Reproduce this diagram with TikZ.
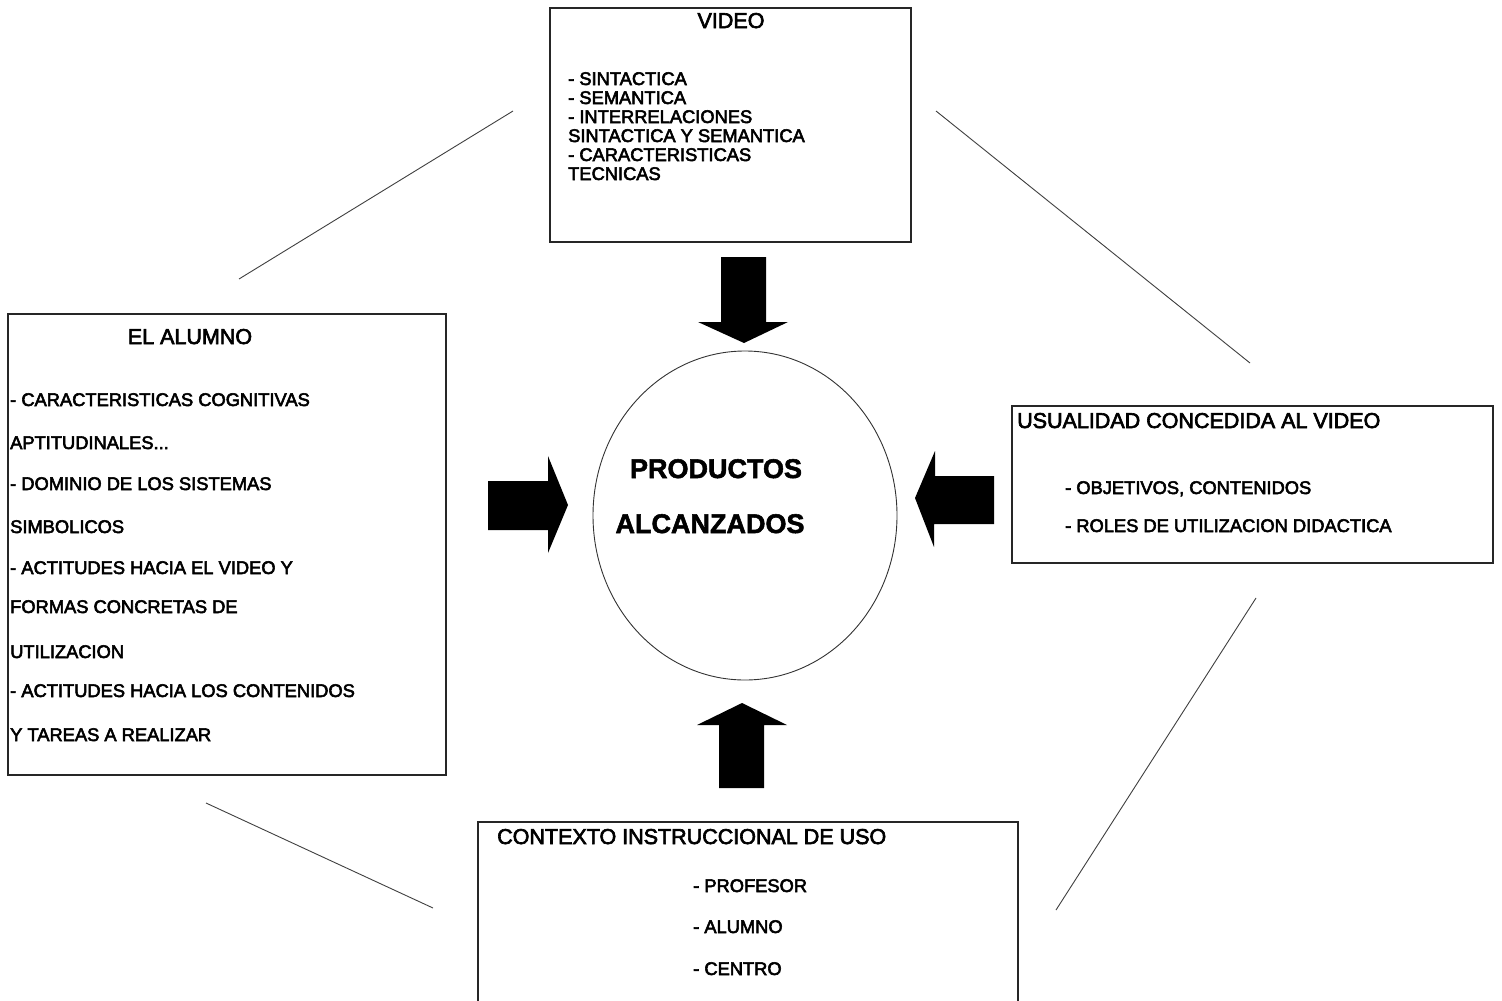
\documentclass[tikz,border=0pt]{standalone}
\usepackage{fontspec}
\setmainfont{Liberation Sans}
\newfontfamily\heavyfont{Liberation Sans}[FakeBold=3]
\newfontfamily\bigfont{Liberation Sans Bold}[FakeBold=2]
\usetikzlibrary{shapes.geometric}
\begin{document}
\begin{tikzpicture}[x=1pt,y=-1pt,
  box/.style={draw=black!85,line width=1.2pt,inner sep=0pt,outer sep=0pt,anchor=north west},
  item/.style={anchor=base west,inner sep=0pt,font=\heavyfont\fontsize{18.3}{20}\selectfont},
  ttl/.style={anchor=base,inner sep=0pt,font=\heavyfont\fontsize{21.5}{24}\selectfont},
  ttlw/.style={anchor=base west,inner sep=0pt,font=\heavyfont\fontsize{21.5}{24}\selectfont},
  big/.style={anchor=base,inner sep=0pt,font=\bigfont\fontsize{27}{29}\selectfont},
  link/.style={draw=black!75,line width=0.9pt},
  blockarrow/.style={fill=black,draw=none}]
\clip (0,0) rectangle (1502,1001);
\fill[white] (0,0) rectangle (1502,1001);

% boxes
\node[box,minimum width=361,minimum height=234] (video) at (550,8) {};
\node[box,minimum width=438,minimum height=461] (alumno) at (8,314) {};
\node[box,minimum width=481,minimum height=157] (usual) at (1012,406) {};
\node[box,minimum width=540,minimum height=200] (contexto) at (478,822) {};

% central ellipse
\node[draw=black!80,line width=0.9pt,ellipse,minimum width=304,minimum height=329,inner sep=0pt] (prod) at (745,515.5) {};
\node[big] (p1) at (716,478) {PRODUCTOS};
\node[big] (p2) at (710,533) {ALCANZADOS};

% VIDEO texts
\node[ttl] (vt) at (731,28) {VIDEO};
\node[item] (v1) at (568,85) {- SINTACTICA};
\node[item] (v2) at (568,104) {- SEMANTICA};
\node[item] (v3) at (568,123) {- INTERRELACIONES};
\node[item] (v4) at (568,142) {SINTACTICA Y SEMANTICA};
\node[item] (v5) at (568,161) {- CARACTERISTICAS};
\node[item] (v6) at (568,180) {TECNICAS};

% EL ALUMNO texts
\node[ttl] (at) at (190,344) {EL ALUMNO};
\node[item] (a1) at (10,406) {- CARACTERISTICAS COGNITIVAS};
\node[item] (a2) at (10,449) {APTITUDINALES...};
\node[item] (a3) at (10,490) {- DOMINIO DE LOS SISTEMAS};
\node[item] (a4) at (10,533) {SIMBOLICOS};
\node[item] (a5) at (10,574) {- ACTITUDES HACIA EL VIDEO Y};
\node[item] (a6) at (10,613) {FORMAS CONCRETAS DE};
\node[item] (a7) at (10,658) {UTILIZACION};
\node[item] (a8) at (10,697) {- ACTITUDES HACIA LOS CONTENIDOS};
\node[item] (a9) at (10,741) {Y TAREAS A REALIZAR};

% USUALIDAD texts
\node[ttlw] (ut) at (1017,428) {USUALIDAD CONCEDIDA AL VIDEO};
\node[item] (u1) at (1065,494) {- OBJETIVOS, CONTENIDOS};
\node[item] (u2) at (1065,532) {- ROLES DE UTILIZACION DIDACTICA};

% CONTEXTO texts
\node[ttlw] (ct) at (497,844) {CONTEXTO INSTRUCCIONAL DE USO};
\node[item] (c1) at (693,892) {- PROFESOR};
\node[item] (c2) at (693,933) {- ALUMNO};
\node[item] (c3) at (693,975) {- CENTRO};

% block arrows
\path[blockarrow] (721,257) -- (766,257) -- (766,322) -- (788,322) -- (744,343) -- (698,322) -- (721,322) -- cycle;
\path[blockarrow] (719,788) -- (764,788) -- (764,725) -- (787,725) -- (742,703) -- (697,725) -- (719,725) -- cycle;
\path[blockarrow] (488,481) -- (548,481) -- (548,456) -- (568,505) -- (548,553) -- (548,530) -- (488,530) -- cycle;
\path[blockarrow] (994,476) -- (935,476) -- (935,451) -- (915,498) -- (934,547) -- (934,524) -- (994,524) -- cycle;

% free lines
\coordinate (l1a) at (513,111); \coordinate (l1b) at (239,279);
\coordinate (l2a) at (936,111); \coordinate (l2b) at (1250,363);
\coordinate (l3a) at (1256,598); \coordinate (l3b) at (1056,910);
\coordinate (l4a) at (206,803); \coordinate (l4b) at (433,908);
\draw[link] (l1a) -- (l1b);
\draw[link] (l2a) -- (l2b);
\draw[link] (l3a) -- (l3b);
\draw[link] (l4a) -- (l4b);
\end{tikzpicture}
\end{document}
